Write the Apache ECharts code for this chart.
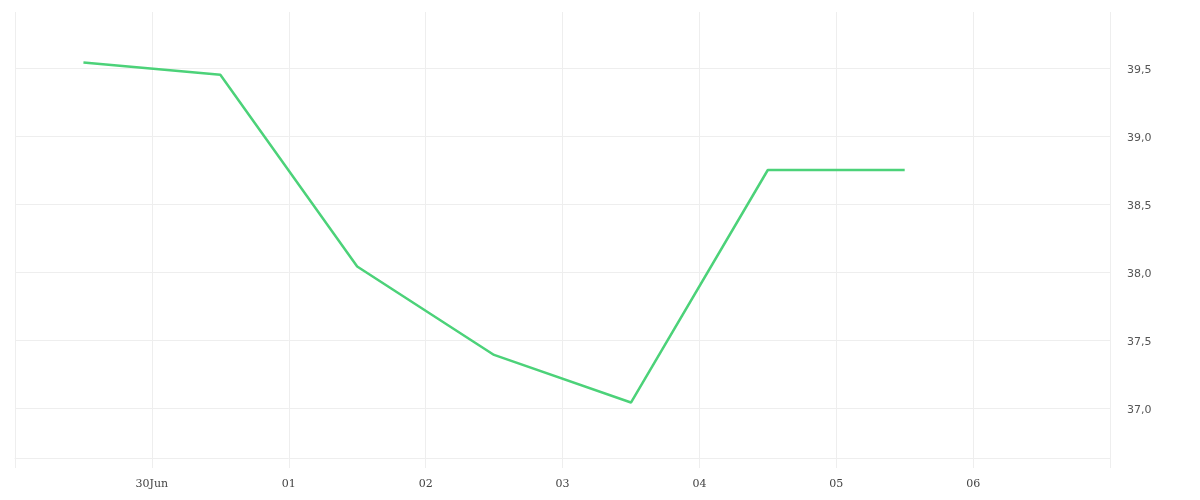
<!DOCTYPE html>
<html>
<head>
<meta charset="utf-8">
<script src="https://cdn.jsdelivr.net/npm/echarts@6/dist/echarts.min.js"></script>
<style>
  html, body { margin: 0; padding: 0; background: #fff; }
  #chart { width: 1200px; height: 500px; }
</style>
</head>
<body>
<div id="chart"></div>
<script>
// Data points (date at 12:00 each day) and values
const pointDates = ['2023-06-29T12:00', '2023-06-30T12:00', '2023-07-01T12:00', '2023-07-02T12:00', '2023-07-03T12:00', '2023-07-04T12:00', '2023-07-05T12:00'];
const seriesValues = [39.54, 39.45, 38.04, 37.39, 37.04, 38.75, 38.75];

// X tick labels (day boundaries)
const xTickDates = ['2023-06-30', '2023-07-01', '2023-07-02', '2023-07-03', '2023-07-04', '2023-07-05', '2023-07-06'];
const xTickLabels = ['30Jun', '01', '02', '03', '04', '05', '06'];

const xMin = '2023-06-29T00:00';
const xMax = '2023-07-07T00:00';
const yMin = 36.632;
const yMax = 39.912;

function parseLocal(s) {
  const [d, t] = s.split('T');
  const [y, m, day] = d.split('-').map(Number);
  let hh = 0, mm = 0;
  if (t) { [hh, mm] = t.split(':').map(Number); }
  return new Date(y, m - 1, day, hh, mm).getTime();
}

const labelMap = {};
xTickDates.forEach((d, i) => { labelMap[parseLocal(d)] = xTickLabels[i]; });

const chart = echarts.init(document.getElementById('chart'));
chart.setOption({
  animation: false,
  backgroundColor: '#ffffff',
  grid: { left: 15, right: 90, top: 12, bottom: 42, containLabel: false },
  xAxis: {
    type: 'time',
    min: parseLocal(xMin),
    max: parseLocal(xMax),
    minInterval: 86400000,
    maxInterval: 86400000,
    splitNumber: 8,
    axisLine: { show: true, lineStyle: { color: '#eeeeee', width: 1 } },
    axisTick: { show: true, length: 10, lineStyle: { color: '#eeeeee', width: 1 } },
    splitLine: { show: true, lineStyle: { color: '#eeeeee', width: 1 } },
    axisLabel: {
      margin: 21,
      color: '#444444',
      fontFamily: 'DejaVu Serif',
      fontSize: 11,
      showMinLabel: true,
      showMaxLabel: true,
      formatter: function (v) {
        const key = (typeof v === 'number') ? v : +v;
        return labelMap[key] || '';
      }
    }
  },
  yAxis: {
    type: 'value',
    position: 'right',
    min: yMin,
    max: yMax,
    splitNumber: 6,
    axisLine: { show: false },
    axisTick: { show: false },
    splitLine: { show: true, showMinLine: false, showMaxLine: false, lineStyle: { color: '#eeeeee', width: 1 } },
    axisLabel: {
      margin: 17,
      color: '#555555',
      fontFamily: 'DejaVu Sans',
      fontSize: 11,
      showMinLabel: false,
      showMaxLabel: false,
      formatter: function (v) { return '{a|' + v.toFixed(1).replace('.', ',') + '}'; },
      rich: {
        a: { color: '#555555', fontFamily: 'DejaVu Sans', fontSize: 11, padding: [5, 0, 0, 0] }
      }
    }
  },
  series: [{
    type: 'line',
    data: pointDates.map((d, i) => [parseLocal(d), seriesValues[i]]),
    showSymbol: false,
    symbol: 'none',
    lineStyle: { color: '#4cd279', width: 2.5 },
    itemStyle: { color: '#4cd279' }
  }]
});
</script>
</body>
</html>
